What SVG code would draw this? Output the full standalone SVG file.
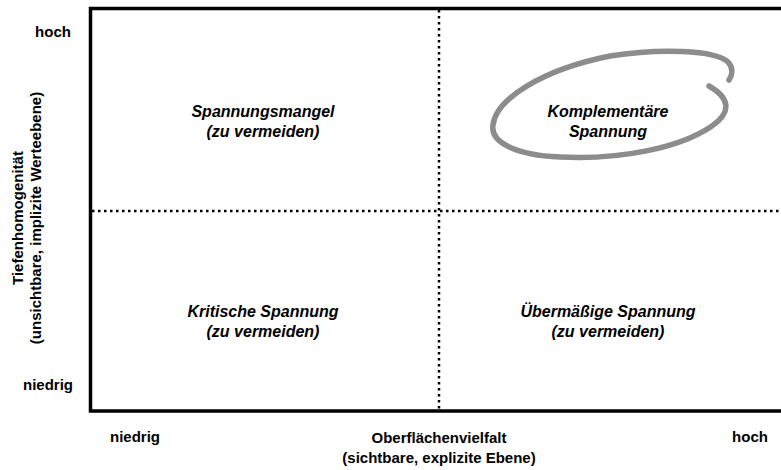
<svg xmlns="http://www.w3.org/2000/svg" width="781" height="470" viewBox="0 0 781 470">
<style>
text{font-family:"Liberation Sans",Arial,sans-serif;font-weight:bold;fill:#000;text-anchor:middle}
.q{font-style:italic;font-size:16px}
.ax{font-size:15px}
.border{fill:none;stroke:#000;stroke-width:3.5}
.dot{fill:none;stroke:#000;stroke-width:2.5;stroke-dasharray:2.5 3.5}
</style>
<rect width="781" height="470" fill="#fff"/>
<g id="connectors">
<line class="dot" x1="92" y1="211" x2="781" y2="211"/>
<line class="dot" x1="439" y1="10" x2="439" y2="409"/>
</g>
<g id="frame">
<path class="border" d="M781,8.5 H90.5 V411 H781"/>
</g>
<g id="highlight">
<path d="M709,86 C730,98 732,112 712,126 C680,148 620,160 560,157 C515,155 490,142 493,125 C496,100 540,70 610,56 C660,48 715,50 728,62 C734,68 732,76 729,80" fill="none" stroke="#8c8c8c" stroke-width="5.5" stroke-linecap="round"/>
</g>
<g id="q-top-left">
<text class="q" x="263" y="117">Spannungsmangel</text>
<text class="q" x="263" y="137">(zu vermeiden)</text>
</g>
<g id="q-top-right">
<text class="q" x="608" y="117">Komplementäre</text>
<text class="q" x="608" y="137">Spannung</text>
</g>
<g id="q-bottom-left">
<text class="q" x="263" y="317">Kritische Spannung</text>
<text class="q" x="263" y="337">(zu vermeiden)</text>
</g>
<g id="q-bottom-right">
<text class="q" x="608" y="317">Übermäßige Spannung</text>
<text class="q" x="608" y="337">(zu vermeiden)</text>
</g>
<g id="y-axis">
<text class="ax" x="53" y="37">hoch</text>
<text class="ax" x="48" y="390">niedrig</text>
<text class="ax" transform="translate(23,218) rotate(-90)">Tiefenhomogenität</text>
<text class="ax" transform="translate(41,218) rotate(-90)">(unsichtbare, implizite Werteebene)</text>
</g>
<g id="x-axis">
<text class="ax" x="135" y="442">niedrig</text>
<text class="ax" x="750" y="442">hoch</text>
<text class="ax" x="439" y="443">Oberflächenvielfalt</text>
<text class="ax" x="439" y="463">(sichtbare, explizite Ebene)</text>
</g>
</svg>
